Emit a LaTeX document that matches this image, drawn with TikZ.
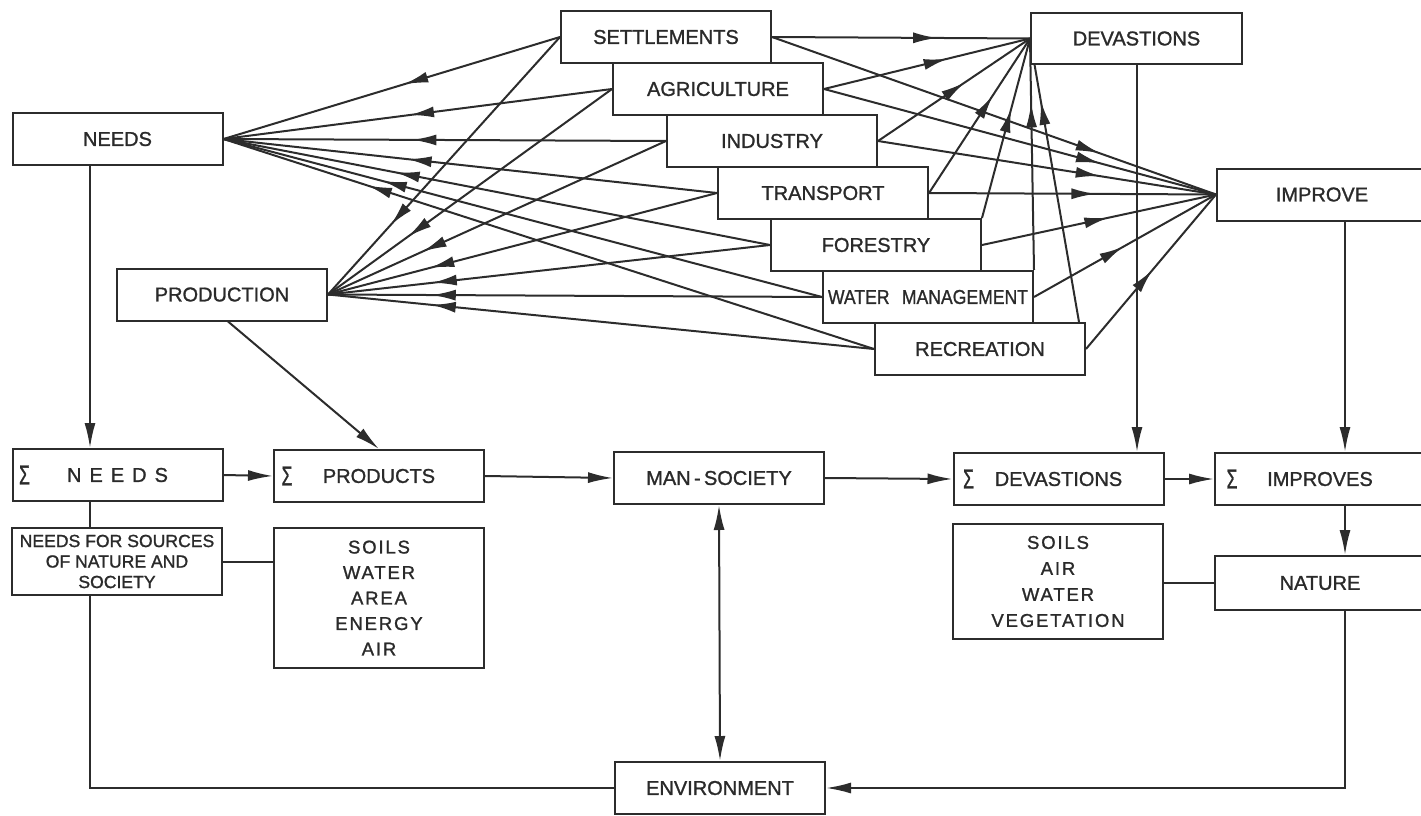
\documentclass[tikz,border=0pt]{standalone}
\usepackage{fontspec}
\usepackage{graphicx}
\usetikzlibrary{arrows.meta,decorations.markings}
\newfontfamily\diagfont[FakeBold=1.2]{Liberation Sans}
\definecolor{ink}{HTML}{2C2C2C}
\definecolor{txt}{HTML}{2A2A2A}

\pgfdeclarelayer{under}
\pgfsetlayers{under,main}

\tikzset{
  box/.style={draw=ink, line width=2pt, fill=white, minimum width=210pt,
    minimum height=52pt, inner sep=2pt, text=txt, align=center,
    font=\diagfont\fontsize{20}{23}\selectfont},
  wire/.style={draw=ink, line width=2pt},
  tip/.style={wire, -{Latex[length=25pt,width=11pt]}},
  biarrow/.style={wire, {Latex[length=25pt,width=11pt]}-{Latex[length=25pt,width=11pt]}},
  fan/.style={wire, postaction={decorate, decoration={markings,
    mark=at position #1 with {\arrow{Latex[length=24pt,width=11pt]}}}}},
  sig/.style={inner sep=0pt, text=txt, font=\diagfont\fontsize{22}{24}\selectfont},
}

\begin{document}
\begin{tikzpicture}[x=1pt,y=-1pt]
\useasboundingbox (0,0) rectangle (1421,816);

% vertical guide columns
\coordinate (colL) at (90,0);
\coordinate (colD) at (1137,0);
\coordinate (colR) at (1345,0);

% ---------- upper level ----------
\node[box] (needsT) at (117.5,139) {NEEDS};
\node[box] (prod) at (222,294.5) {PRODUCTION};
\node[box, minimum width=211pt, minimum height=51pt] (devT) at (1136.5,38.5) {DEVASTIONS};
\node[box] (impT) at (1322,194.5) {IMPROVE};

% sector boxes, stacked in a staircase
\node[box] (settl) at (666,37) {SETTLEMENTS};
\node[box] (agri) at (718,89) {AGRICULTURE};
\node[box] (indu) at (772,141) {INDUSTRY};
\node[box] (trans) at (823,193) {TRANSPORT};
\node[box] (fores) at (876,245) {FORESTRY};
\node[box] (water) at (928,297) {\scalebox{0.88}[1]{WATER\hspace{14pt}MANAGEMENT}};
\node[box] (recr) at (980,349) {RECREATION};

\begin{pgfonlayer}{under}
% fans from every sector into needs and production
\foreach \s/\a/\b in {settl/0.463/0.73, agri/0.52/0.718, indu/0.573/0.72,
    trans/0.627/0.737, fores/0.685/0.763, water/0.734/0.79, recr/0.778/0.81}{
  \draw[fan=\a] (\s.west) -- (needsT.east);
  \draw[fan=\b] (\s.west) -- (prod.east);
}

% fan towards devastions
\draw[fan=0.64] (settl.east) -- (devT.west);
\draw[fan=0.60] (agri.east) -- (devT.west);
\draw[fan=0.57] (indu.east) -- (devT.west);
\draw[fan=0.63] (trans.east) -- (devT.west);
\draw[fan=0.61] (fores.north east) -- (devT.west);
\draw[fan=0.72] (water.north east) -- (devT.west);
\draw[fan=0.78] ([xshift=-7pt]recr.north east) -- (devT.west);

% fan towards improve
\draw[fan=0.738] (settl.east) -- (impT.west);
\draw[fan=0.704] (agri.east) -- (impT.west);
\draw[fan=0.656] (indu.east) -- (impT.west);
\draw[fan=0.58] (trans.east) -- (impT.west);
\draw[fan=0.54] (fores.east) -- (impT.west);
\draw[fan=0.49] (water.east) -- (impT.west);
\draw[fan=0.51] (recr.east) -- (impT.west);
\end{pgfonlayer}

% ---------- lower level ----------
\node[box] (sNeeds) at (117.5,475) {\addfontfeature{LetterSpace=40}NEEDS};
\node[box] (sProd) at (379,476) {PRODUCTS};
\node[box] (man) at (719,478) {MAN\,-\,SOCIETY};
\node[box] (sDev) at (1058.5,479) {DEVASTIONS};
\node[box] (sImp) at (1320,479) {IMPROVES};

\node[sig] (sgA) at ([xshift=13pt]sNeeds.west) {\scalebox{0.8}[1.25]{Σ}};
\node[sig] (sgB) at ([xshift=14pt]sProd.west) {\scalebox{0.8}[1.25]{Σ}};
\node[sig] (sgC) at ([xshift=16pt]sDev.west) {\scalebox{0.8}[1.25]{Σ}};
\node[sig] (sgD) at ([xshift=18pt]sImp.west) {\scalebox{0.8}[1.25]{Σ}};

\node[box, minimum height=67pt, font=\diagfont\fontsize{17.6}{20.5}\selectfont]
  (sources) at (117,561.5) {NEEDS FOR SOURCES\\OF NATURE AND\\SOCIETY};
\node[box, minimum height=140pt,
  font=\diagfont\fontsize{18.5}{25.5}\selectfont\addfontfeature{LetterSpace=10}]
  (res1) at (379,598) {SOILS\\WATER\\AREA\\ENERGY\\AIR};
\node[box, minimum height=115pt,
  font=\diagfont\fontsize{18.5}{26}\selectfont\addfontfeature{LetterSpace=10}]
  (res2) at (1058,581.5) {SOILS\\AIR\\WATER\\VEGETATION};
\node[box, minimum height=54pt] (nature) at (1320,583) {NATURE};
\node[box] (env) at (720,788) {ENVIRONMENT};

% ---------- connectors of the lower level ----------
\draw[tip] (needsT.south -| colL) -- (sNeeds.north -| colL);
\draw[tip] (sNeeds.east) -- (sProd.west);
\draw[wire] (sNeeds.south -| colL) -- (sources.north -| colL);
\draw[wire] (sources.east) -- (sources.east -| res1.west);
\draw[wire] (sources.south -| colL) -- (colL |- env.west) -- (env.west);
\draw[tip] ([xshift=6pt]prod.south) -- (sProd.north);
\draw[tip] (sProd.east) -- (man.west);
\draw[tip] (man.east) -- (sDev.west);
\draw[biarrow] (man.south) -- (env.north);
\draw[tip] (devT.south -| colD) -- (sDev.north -| colD);
\draw[tip] (sDev.east) -- (sImp.west);
\draw[tip] (impT.south -| colR) -- (sImp.north -| colR);
\draw[tip] (sImp.south -| colR) -- (nature.north -| colR);
\draw[wire] (nature.west) -- (nature.west -| res2.east);
\draw[tip] (nature.south -| colR) -- (colR |- env.east) -- (env.east);
\end{tikzpicture}
\end{document}
